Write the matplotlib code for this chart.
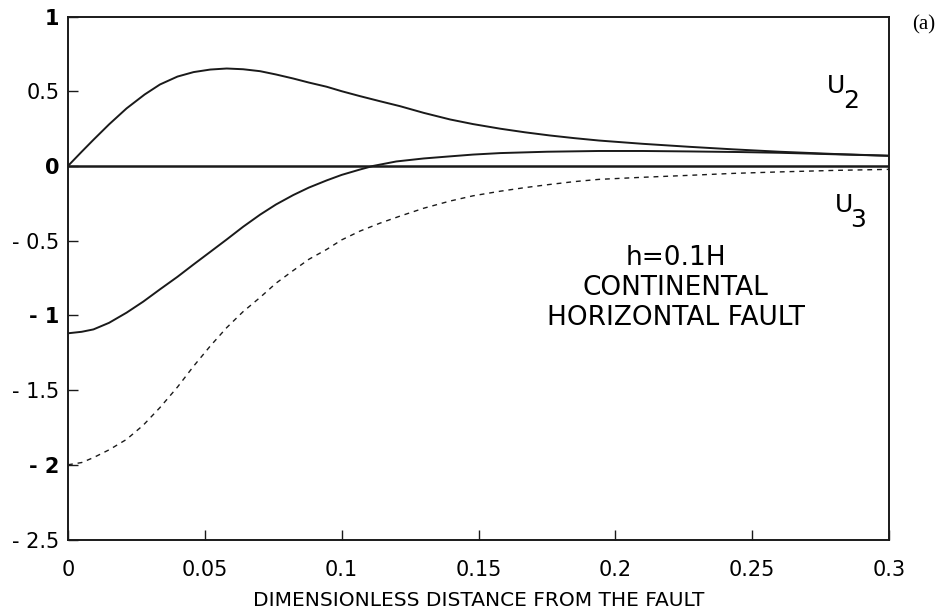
import matplotlib
matplotlib.use("Agg")
import matplotlib.pyplot as plt

# ---- data ----
u2_x = [0, 0.005, 0.0093, 0.015, 0.0214, 0.028, 0.0336, 0.04, 0.0459, 0.052, 0.058,
        0.064, 0.0702, 0.076, 0.0823, 0.088, 0.0945, 0.1, 0.1067, 0.114, 0.1213,
        0.13, 0.1396, 0.148, 0.158, 0.167, 0.176, 0.185, 0.194, 0.21, 0.227,
        0.243, 0.26, 0.28, 0.3]
u2_y = [0, 0.095, 0.175, 0.278, 0.385, 0.478, 0.545, 0.598, 0.628, 0.645, 0.652,
        0.647, 0.634, 0.612, 0.585, 0.558, 0.53, 0.50, 0.467, 0.433, 0.40,
        0.355, 0.311, 0.28, 0.249, 0.225, 0.204, 0.186, 0.17, 0.148, 0.128,
        0.111, 0.095, 0.08, 0.068]

u3_x = [0, 0.005, 0.0093, 0.015, 0.0214, 0.0275, 0.0336, 0.04, 0.0459, 0.052, 0.058,
        0.064, 0.0702, 0.076, 0.0823, 0.088, 0.0945, 0.1, 0.1067, 0.1115, 0.12,
        0.13, 0.1396, 0.148, 0.158, 0.175, 0.194, 0.21, 0.227, 0.245, 0.26,
        0.28, 0.3]
u3_y = [-1.12, -1.11, -1.094, -1.05, -0.982, -0.908, -0.826, -0.742, -0.659, -0.575,
        -0.492, -0.407, -0.326, -0.258, -0.195, -0.145, -0.097, -0.06, -0.024, 0.0,
        0.03, 0.05, 0.064, 0.076, 0.086, 0.095, 0.10, 0.10, 0.097, 0.093, 0.088,
        0.078, 0.068]

u3d_x = [0, 0.005, 0.0093, 0.015, 0.0214, 0.0275, 0.0336, 0.04, 0.0459, 0.052, 0.058,
         0.064, 0.0702, 0.076, 0.0823, 0.088, 0.0945, 0.1, 0.1067, 0.114, 0.1213,
         0.13, 0.1396, 0.148, 0.158, 0.167, 0.176, 0.185, 0.194, 0.21, 0.227,
         0.243, 0.26, 0.28, 0.3]
u3d_y = [-2.0, -1.985, -1.952, -1.90, -1.83, -1.735, -1.617, -1.48, -1.34, -1.205,
         -1.082, -0.975, -0.88, -0.785, -0.70, -0.625, -0.559, -0.495, -0.436,
         -0.383, -0.336, -0.283, -0.235, -0.2, -0.169, -0.145, -0.124, -0.105,
         -0.09, -0.076, -0.063, -0.05, -0.04, -0.03, -0.023]

x_ticks = [0, 0.05, 0.1, 0.15, 0.2, 0.25, 0.3]
x_labels = ["0", "0.05", "0.1", "0.15", "0.2", "0.25", "0.3"]
y_ticks = [1, 0.5, 0, -0.5, -1, -1.5, -2, -2.5]
y_labels = ["1", "0.5", "0", "- 0.5", "- 1", "- 1.5", "- 2", "- 2.5"]
bold_labels = {"1", "0", "- 1", "- 2"}

LC = "#1a1a1a"

fig = plt.figure(figsize=(9.4, 6.12), dpi=100)
ax = fig.add_axes([68 / 940, 1 - 539.5 / 612, (889 - 68) / 940, (539.5 - 16.5) / 612])

ax.axhline(0, color=LC, lw=1.8, zorder=2)
ax.plot(u2_x, u2_y, color=LC, lw=1.4)
ax.plot(u3_x, u3_y, color=LC, lw=1.4)
ax.plot(u3d_x, u3d_y, color=LC, lw=1.0, dashes=(3.5, 3.5))

ax.set_xlim(0, 0.3)
ax.set_ylim(-2.5, 1)

ax.set_xticks(x_ticks)
ax.set_xticklabels(x_labels, fontsize=15)
ax.set_yticks(y_ticks)
ax.set_yticklabels(y_labels, fontsize=15)
for t in ax.get_yticklabels():
    if t.get_text() in bold_labels:
        t.set_fontweight("bold")

ax.tick_params(axis="x", direction="in", length=7, width=1.0, pad=15, color=LC)
ax.tick_params(axis="y", direction="in", length=7, width=1.0, pad=6, color=LC)
for s in ax.spines.values():
    s.set_linewidth(1.4)
    s.set_color(LC)

ax.set_xlabel("DIMENSIONLESS DISTANCE FROM THE FAULT", fontsize=14.5, labelpad=8)

# curve labels
ax.text(0.2773, 0.49, "U", fontsize=18, ha="left", va="baseline")
ax.text(0.2831, 0.391, "2", fontsize=18, ha="left", va="baseline")
ax.text(0.2802, -0.311, "U", fontsize=18, ha="left", va="baseline")
ax.text(0.2857, -0.411, "3", fontsize=18, ha="left", va="baseline")

# annotation block
ax.text(0.2221, -0.661, "h=0.1H", fontsize=19, ha="center", va="baseline")
ax.text(0.2221, -0.866, "CONTINENTAL", fontsize=19, ha="center", va="baseline")
ax.text(0.2221, -1.067, "HORIZONTAL FAULT", fontsize=19, ha="center", va="baseline")

fig.text(912 / 940, 1 - 29 / 612, "(a)", fontsize=15, family="Liberation Serif",
         ha="left", va="baseline")

fig.savefig("out.png", dpi=100)
